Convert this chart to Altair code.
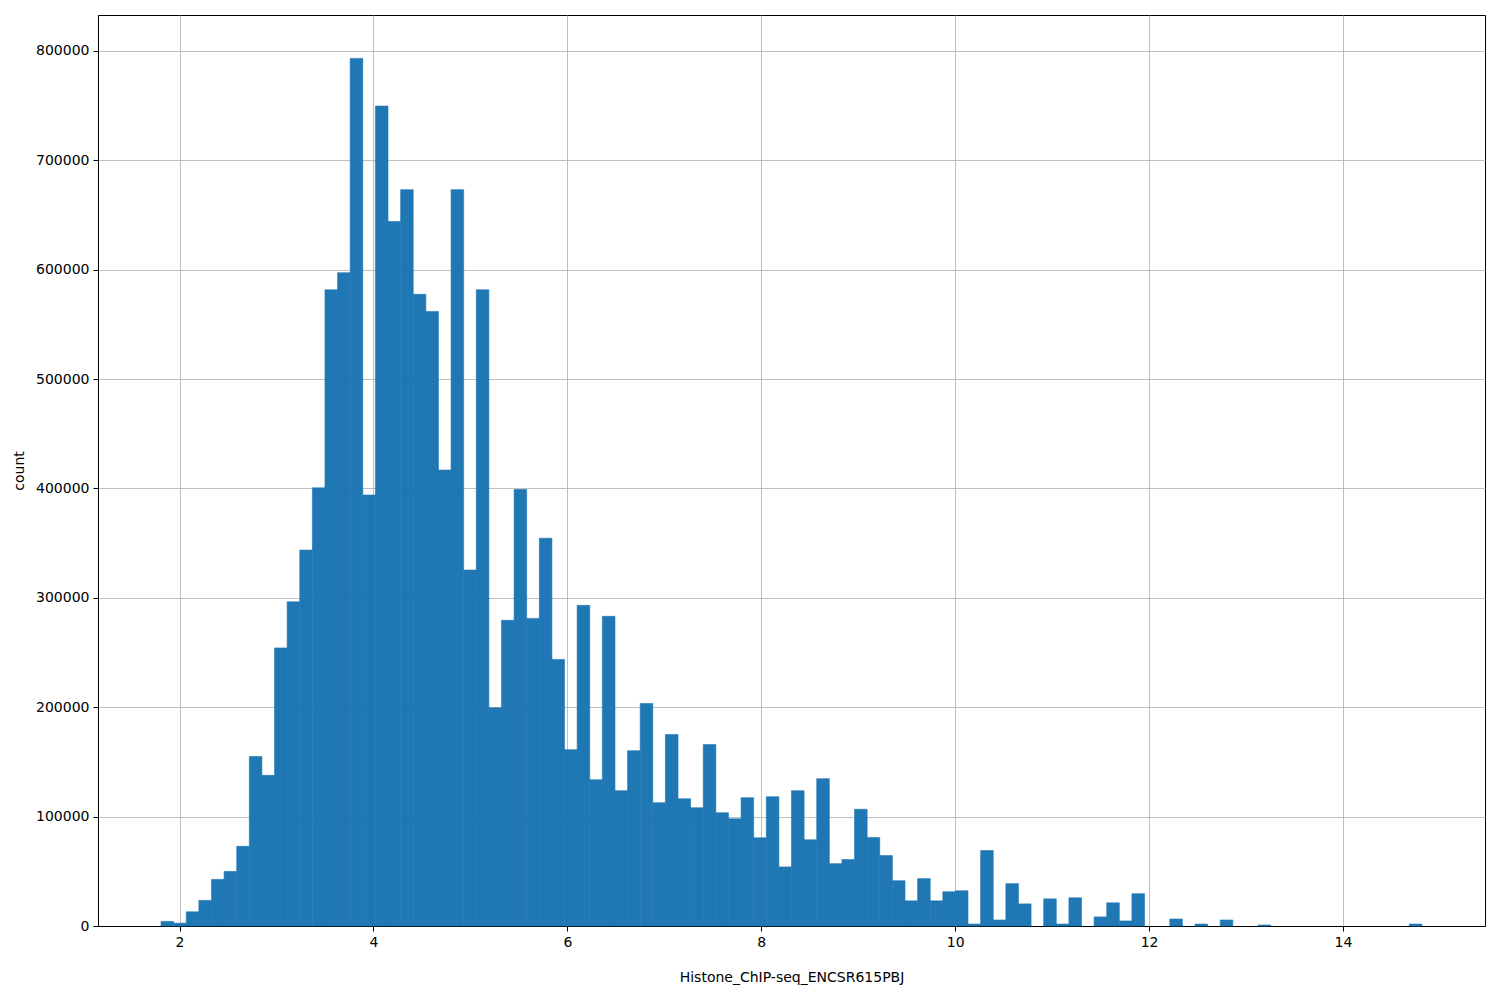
import altair as alt
import pandas as pd

# histogram counts (100 equal-width bins)
counts = [
    4200, 2600, 13000, 23400, 42600, 49900, 72800, 154900, 137700, 254200,
    296300, 343600, 400500, 581600, 597200, 793100, 394000, 749500, 644000, 673100,
    577400, 561800, 416800, 673100, 325400, 581600, 199400, 279400, 399000, 281200,
    354500, 243700, 161200, 293100, 133700, 283100, 123700, 160300, 203400, 112700,
    175000, 116300, 108100, 165800, 103500, 98000, 117300, 80600, 118200, 54000,
    123700, 78800, 134700, 57000, 60700, 106700, 81000, 64400, 41400, 23000,
    43300, 23000, 31300, 32200, 1800, 69000, 5500, 38700, 20200, 0,
    24800, 1800, 25800, 0, 8300, 21200, 4600, 29500, 0, 0,
    6400, 0, 1800, 0, 5500, 0, 0, 900, 0, 0,
    0, 0, 0, 0, 0, 0, 0, 0, 0, 1800,
]
bin_lo = 1.809
bin_hi = 14.815
x_ticks = [2, 4, 6, 8, 10, 12, 14]
y_ticks = [0, 100000, 200000, 300000, 400000, 500000, 600000, 700000, 800000]
x_label = "Histone_ChIP-seq_ENCSR615PBJ"
y_label = "count"

n_bins = len(counts)
bw = (bin_hi - bin_lo) / n_bins
df = pd.DataFrame({
    "start": [bin_lo + i * bw for i in range(n_bins)],
    "end": [bin_lo + (i + 1) * bw for i in range(n_bins)],
    "count": counts,
})
df = df[df["count"] > 0]

span = bin_hi - bin_lo
x_dom = [bin_lo - 0.05 * span, bin_hi + 0.05 * span]
y_dom = [0, max(counts) * 1.05]

font = "DejaVu Sans"

chart = alt.Chart(df).mark_rect(color="#1f77b4", stroke="#1f77b4", strokeWidth=0.6).encode(
    x=alt.X("start:Q",
            scale=alt.Scale(domain=x_dom, nice=False, zero=False, padding=0),
            axis=alt.Axis(values=x_ticks, title=x_label, format="d",
                          titlePadding=21)),
    x2="end:Q",
    y=alt.Y("count:Q",
            scale=alt.Scale(domain=y_dom, nice=False, padding=0),
            axis=alt.Axis(values=y_ticks, title=y_label, format="d",
                          titlePadding=9)),
    y2=alt.datum(0),
).properties(
    width=1387,
    height=911,
    autosize=alt.AutoSizeParams(type="none"),
    padding={"left": 90, "top": 7, "right": 7, "bottom": 60},
).configure_view(
    stroke="black", strokeWidth=1,
).configure_axis(
    grid=True, gridColor="#b0b0b0", gridWidth=0.8,
    domainColor="black", domainWidth=1,
    tickColor="black", tickSize=5, tickWidth=1,
    labelFont=font, labelFontSize=14, labelColor="black", labelPadding=4,
    titleFont=font, titleFontSize=14, titleFontWeight="normal", titleColor="black",
    zindex=1, labelFlush=False, labelOverlap=False,
)

chart.save("out.html", embed_options={"renderer": "svg", "actions": False})
